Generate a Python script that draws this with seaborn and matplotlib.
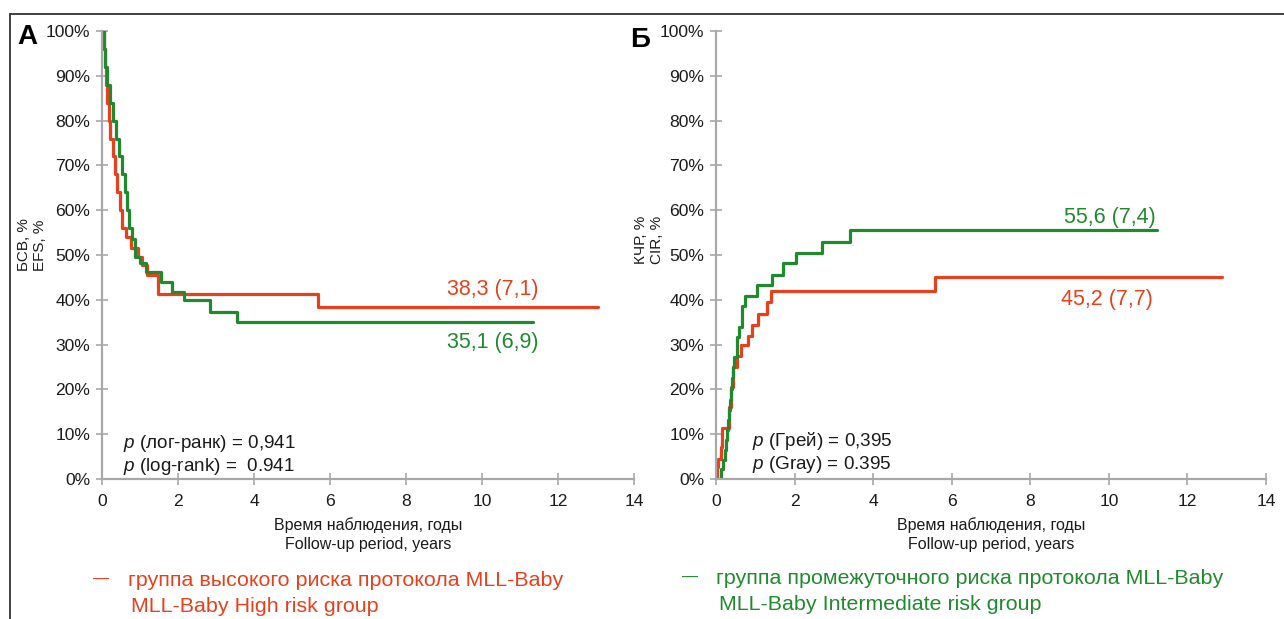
import matplotlib
matplotlib.use("Agg")
import matplotlib.pyplot as plt
from matplotlib.lines import Line2D
import seaborn as sns
import pandas as pd

# ---- data -------------------------------------------------------------
# Panel A: event-free survival (%), step function (time in years)
efs_high_t = [0, 0.05, 0.08, 0.11, 0.14, 0.18, 0.22, 0.28, 0.33, 0.40, 0.47, 0.53,
              0.62, 0.75, 0.95, 1.05, 1.18, 1.47, 5.68, 13.05]
efs_high_v = [100, 96, 92, 88, 84, 80, 76, 72, 68, 64, 60, 56,
              54, 51.6, 49.6, 47.8, 45.5, 41.3, 38.3, 38.3]
efs_int_t = [0, 0.04, 0.08, 0.13, 0.20, 0.28, 0.37, 0.45, 0.52, 0.60, 0.66, 0.72,
             0.80, 0.86, 1.00, 1.15, 1.55, 1.83, 2.16, 2.84, 3.55, 11.35]
efs_int_v = [100, 96, 92, 88, 84, 80, 76, 72, 68, 64, 60, 56,
             53.5, 49.6, 48.2, 46.3, 44, 41.8, 40, 37.3, 35.1, 35.1]

# Panel B: cumulative incidence of relapse (%)
cir_high_t = [0, 0.02, 0.06, 0.13, 0.16, 0.34, 0.38, 0.44, 0.53, 0.63, 0.82, 0.91, 1.07,
              1.31, 1.39, 5.57, 12.88]
cir_high_v = [0, 2.7, 4.5, 7.2, 11.4, 16.1, 20.6, 25, 27.5, 29.8, 31.9, 34.4, 36.8,
              39.4, 42, 45.2, 45.2]
cir_int_t = [0, 0.13, 0.18, 0.22, 0.25, 0.28, 0.31, 0.34, 0.36, 0.39, 0.42, 0.44,
             0.46, 0.53, 0.59, 0.65, 0.74, 1.05, 1.42, 1.71, 2.03, 2.69, 3.41, 11.22]
cir_int_v = [0, 2.2, 4.2, 6.5, 8.7, 11, 13.2, 15.4, 17.6, 20, 22.5, 25,
             27.3, 31.8, 34, 38.6, 40.8, 43.3, 45.5, 48.2, 50.5, 53, 55.6, 55.6]

efs_high_label = "38,3 (7,1)"
efs_int_label = "35,1 (6,9)"
cir_high_label = "45,2 (7,7)"
cir_int_label = "55,6 (7,4)"

x_ticks = [0, 2, 4, 6, 8, 10, 12, 14]
y_ticks = [0, 10, 20, 30, 40, 50, 60, 70, 80, 90, 100]

RED = "#e8401c"
GREEN = "#1f8a2e"
AXIS_GREY = "#a8a8a8"
TEXT = "#1a1a1a"

sns.set_theme(style="white")
plt.rcParams["font.family"] = ["Liberation Sans", "DejaVu Sans"]
plt.rcParams["mathtext.fontset"] = "custom"
plt.rcParams["mathtext.it"] = "Liberation Sans:italic"
plt.rcParams["mathtext.rm"] = "Liberation Sans"

W, H = 1284, 619
fig = plt.figure(figsize=(W / 100, H / 100), dpi=100)


def px_axes(x0, x1, y_top, y_bot):
    return fig.add_axes([x0 / W, 1 - y_bot / H, (x1 - x0) / W, (y_bot - y_top) / H])


def frame(df_list, ax):
    df = pd.concat(df_list, ignore_index=True)
    sns.lineplot(data=df, x="t", y="v", hue="grp", palette={"high": RED, "int": GREEN},
                 hue_order=["high", "int"], estimator=None, sort=False,
                 drawstyle="steps-post", linewidth=2.3, legend=False, ax=ax)
    ax.set_xlim(0, 14)
    ax.set_ylim(0, 100)
    ax.set_xticks(x_ticks)
    ax.set_xticklabels([str(v) for v in x_ticks])
    ax.set_yticks(y_ticks)
    ax.set_yticklabels([f"{v}%" for v in y_ticks])
    for s in ["top", "right"]:
        ax.spines[s].set_visible(False)
    for s in ["left", "bottom"]:
        ax.spines[s].set_color(AXIS_GREY)
        ax.spines[s].set_linewidth(1.6)
    ax.tick_params(axis="both", direction="inout", length=9, width=1.2,
                   color=AXIS_GREY, labelsize=12.6, labelcolor=TEXT,
                   left=True, bottom=True)
    ax.tick_params(axis="y", pad=4)
    ax.tick_params(axis="x", pad=6)
    ax.set_xlabel("")
    ax.set_ylabel("")
    ax.set_facecolor("none")


def mk(t, v, grp):
    return pd.DataFrame({"t": t, "v": v, "grp": grp})


# ---- panel A ----------------------------------------------------------
axA = px_axes(102, 634, 31, 479)
frame([mk(efs_high_t, efs_high_v, "high"), mk(efs_int_t, efs_int_v, "int")], axA)
axA.text(10.29, 42.2, efs_high_label, color=RED, fontsize=15.5, ha="center", va="center")
axA.text(10.29, 30.4, efs_int_label, color=GREEN, fontsize=15.5, ha="center", va="center")
axA.text(0.55, 8.0, "$p$ (лог-ранк) = 0,941", color=TEXT, fontsize=13.6, ha="left", va="center")
axA.text(0.55, 2.9, "$p$ (log-rank) =  0.941", color=TEXT, fontsize=13.6, ha="left", va="center")

# ---- panel B ----------------------------------------------------------
axB = px_axes(716, 1266, 31, 479)
frame([mk(cir_int_t, cir_int_v, "int"), mk(cir_high_t, cir_high_v, "high")], axB)
axB.text(10.03, 58.3, cir_int_label, color=GREEN, fontsize=15.5, ha="center", va="center")
axB.text(9.95, 40.0, cir_high_label, color=RED, fontsize=15.5, ha="center", va="center")
axB.text(0.92, 8.5, "$p$ (Грей) = 0,395", color=TEXT, fontsize=13.6, ha="left", va="center")
axB.text(0.92, 3.2, "$p$ (Gray) = 0.395", color=TEXT, fontsize=13.6, ha="left", va="center")


def ftext(x, y, s, **kw):
    fig.text(x / W, 1 - y / H, s, **kw)


# panel letters
ftext(17, 37, "А", fontsize=20, fontweight="bold", color="black", ha="left", va="center")
ftext(630, 40, "Б", fontsize=20, fontweight="bold", color="black", ha="left", va="center")

# y-axis titles
ftext(32, 245, "БСВ, %\nEFS, %", fontsize=11, rotation=90, color=TEXT,
      ha="center", va="center", multialignment="center", linespacing=1.2)
ftext(649, 240, "КЧР, %\nCIR, %", fontsize=11, rotation=90, color=TEXT,
      ha="center", va="center", multialignment="center", linespacing=1.2)

# x-axis titles
for cx in (368, 991):
    ftext(cx, 525, "Время наблюдения, годы", fontsize=11.5, color=TEXT, ha="center", va="center")
    ftext(cx, 545, "Follow-up period, years", fontsize=11.5, color=TEXT, ha="center", va="center")

# group keys
ftext(93, 579, "—", fontsize=11.5, color=RED, ha="left", va="center")
ftext(128, 580, "группа высокого риска протокола MLL-Baby", fontsize=15.4, color=RED,
      ha="left", va="center")
ftext(131, 606, "MLL-Baby High risk group", fontsize=15.4, color=RED, ha="left", va="center")

ftext(682, 577, "—", fontsize=11.5, color=GREEN, ha="left", va="center")
ftext(716, 578, "группа промежуточного риска протокола MLL-Baby", fontsize=15.4, color=GREEN,
      ha="left", va="center")
ftext(719, 604, "MLL-Baby Intermediate risk group", fontsize=15.4, color=GREEN,
      ha="left", va="center")

# outer frame (top and left edges)
fig.add_artist(Line2D([10 / W, 1.0], [1 - 14 / H, 1 - 14 / H], transform=fig.transFigure,
                      color="#333333", linewidth=1.3))
fig.add_artist(Line2D([10 / W, 10 / W], [1 - 14 / H, 0.0], transform=fig.transFigure,
                      color="#333333", linewidth=1.3))

fig.savefig("out.png", dpi=100, facecolor="white")
